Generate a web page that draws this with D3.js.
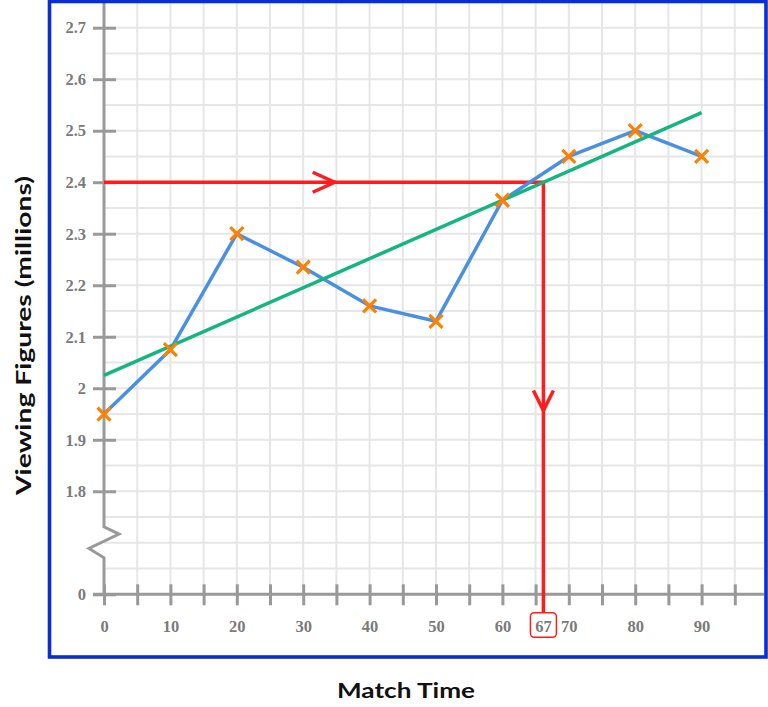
<!DOCTYPE html>
<html>
<head>
<meta charset="utf-8">
<script src="https://cdn.jsdelivr.net/npm/d3@7"></script>
<style>
  html, body { margin: 0; padding: 0; background: #ffffff; }
  svg { display: block; }
</style>
</head>
<body>
<svg id="chart" width="768" height="707"></svg>
<script>
// ---------- data ----------
const times = [0, 10, 20, 30, 40, 50, 60, 70, 80, 90];
const viewers = [1.95, 2.075, 2.30, 2.235, 2.16, 2.13, 2.365, 2.45, 2.50, 2.45];
const trendTimes = [0, 90];
const trendValues = [2.025, 2.535];
const readValue = 2.4;
const readLabel = "67";
const xTickLabels = [0, 10, 20, 30, 40, 50, 60, 70, 80, 90];
const yTickLabels = [1.8, 1.9, 2, 2.1, 2.2, 2.3, 2.4, 2.5, 2.6, 2.7];
const yBreakBase = 1.6;          // the "0" drawn below the axis break
const yBreakLabel = "0";
const xTitle = "Match Time";
const yTitle = "Viewing Figures (millions)";

// ---------- layout ----------
const svg = d3.select("#chart");
const x = d3.scaleLinear().domain([0, 90]).range([104, 701.6]);
const y = d3.scaleLinear().domain([yBreakBase, 2.7]).range([594.3, 27.7]);
const plotTop = 3, plotRight = 764;
const gray = "#999999", labelGray = "#7a7a7a";
const red = "#ff1c1c";
const serif = "'Liberation Serif', 'DejaVu Serif', serif";
const sans = "Lato, 'Open Sans', sans-serif";
const tickFont = 16.5;

// grid
const grid = svg.append("g").attr("stroke", "#e6e6e6").attr("stroke-width", 2);
grid.selectAll("line.v").data(d3.range(5, 100, 5)).join("line")
  .attr("class", "v")
  .attr("x1", d => x(d)).attr("x2", d => x(d))
  .attr("y1", plotTop).attr("y2", y(yBreakBase));
grid.selectAll("line.h").data(d3.range(1, 23).map(i => yBreakBase + i * 0.05)).join("line")
  .attr("class", "h")
  .attr("x1", x(0)).attr("x2", plotRight)
  .attr("y1", d => y(d)).attr("y2", d => y(d));

// y axis
const yAxis = svg.append("g").attr("transform", `translate(${x(0)},0)`)
  .call(d3.axisLeft(y)
    .tickValues([yBreakBase].concat(yTickLabels))
    .tickFormat(d => d === yBreakBase ? yBreakLabel : (d === 2 ? "2" : d3.format(".1f")(d)))
    .tickSize(11).tickPadding(7));
yAxis.select(".domain").remove();
yAxis.selectAll(".tick line").attr("x1", 12).attr("x2", -11)
  .attr("stroke", gray).attr("stroke-width", 3);
yAxis.selectAll(".tick text")
  .attr("fill", labelGray).attr("font-family", serif)
  .attr("font-weight", "bold").attr("font-size", tickFont);

// y axis line with break zig-zag
const breakPts = [
  [x(0), plotTop],
  [x(0), y(1.731)],
  [x(0) + 15, y(1.717)],
  [x(0) - 15, y(1.689)],
  [x(0), y(1.671)],
  [x(0), y(yBreakBase)]
];
svg.append("path")
  .attr("d", d3.line()(breakPts))
  .attr("fill", "none").attr("stroke", gray).attr("stroke-width", 3)
  .attr("stroke-linejoin", "miter");

// x axis
const xAxis = svg.append("g").attr("transform", `translate(0,${y(yBreakBase)})`)
  .call(d3.axisBottom(x)
    .tickValues(d3.range(0, 100, 5))
    .tickFormat(d => xTickLabels.includes(d) ? String(d) : "")
    .tickSize(11).tickPadding(15));
xAxis.select(".domain").remove();
xAxis.selectAll(".tick line").attr("y1", -10).attr("y2", 11)
  .attr("stroke", gray).attr("stroke-width", 3);
xAxis.selectAll(".tick text")
  .attr("fill", labelGray).attr("font-family", serif)
  .attr("font-weight", "bold").attr("font-size", tickFont);
svg.append("line")
  .attr("x1", x(0) - 11).attr("x2", plotRight)
  .attr("y1", y(yBreakBase)).attr("y2", y(yBreakBase))
  .attr("stroke", gray).attr("stroke-width", 3);

// reading off the trend line
const trend = d3.scaleLinear().domain(trendValues).range(trendTimes);
const readTime = trend(readValue);
const rx = x(readTime), ry = y(readValue);
const boxTop = 612.7, boxH = 24.6, boxW = 26;
svg.append("path")
  .attr("d", `M${x(0)},${ry}H${rx}V${boxTop}`)
  .attr("fill", "none").attr("stroke", red).attr("stroke-width", 3.5);
const mx = (x(0) + rx) / 2;
svg.append("path")
  .attr("d", `M${mx - 11},${ry - 10}L${mx + 11},${ry}L${mx - 11},${ry + 10}`)
  .attr("fill", "none").attr("stroke", red).attr("stroke-width", 3.5);
const my = (ry + boxTop) / 2 + 3;
svg.append("path")
  .attr("d", `M${rx - 10},${my - 10}L${rx},${my + 10}L${rx + 10},${my - 10}`)
  .attr("fill", "none").attr("stroke", red).attr("stroke-width", 3.5);
svg.append("rect")
  .attr("x", rx - boxW / 2).attr("y", boxTop).attr("width", boxW).attr("height", boxH)
  .attr("rx", 4).attr("fill", "#ffffff").attr("stroke", red).attr("stroke-width", 1.5);
svg.append("text")
  .attr("x", rx).attr("y", 631.7).attr("text-anchor", "middle")
  .attr("fill", labelGray).attr("font-family", serif)
  .attr("font-weight", "bold").attr("font-size", tickFont)
  .text(readLabel);

// data line
const pts = times.map((t, i) => [t, viewers[i]]);
svg.append("path")
  .attr("d", d3.line().x(d => x(d[0])).y(d => y(d[1]))(pts))
  .attr("fill", "none").attr("stroke", "#4a90e2").attr("stroke-width", 3.5)
  .attr("stroke-linejoin", "round");

// trend line
svg.append("path")
  .attr("d", d3.line().x(d => x(d[0])).y(d => y(d[1]))(trendTimes.map((t, i) => [t, trendValues[i]])))
  .attr("fill", "none").attr("stroke", "#14b57f").attr("stroke-width", 3.5);

// markers
svg.append("g").selectAll("path").data(pts).join("path")
  .attr("d", d => {
    const cx = x(d[0]), cy = y(d[1]), s = 6.5;
    return `M${cx - s},${cy - s}L${cx + s},${cy + s}M${cx - s},${cy + s}L${cx + s},${cy - s}`;
  })
  .attr("stroke", "#ff8000").attr("stroke-width", 3.2).attr("fill", "none");

// frame
svg.append("rect")
  .attr("x", 49.5).attr("y", 1.5).attr("width", 716.5).attr("height", 655.5)
  .attr("fill", "none").attr("stroke", "#0a2fd0").attr("stroke-width", 3.6);

// titles
svg.append("text")
  .attr("x", 406).attr("y", 697.7).attr("text-anchor", "middle")
  .attr("font-family", sans).attr("font-weight", 700).attr("font-size", 21)
  .attr("fill", "#111111")
  .attr("textLength", 138).attr("lengthAdjust", "spacingAndGlyphs")
  .text(xTitle);
svg.append("text")
  .attr("transform", "translate(30.7,335.5) rotate(-90)")
  .attr("text-anchor", "middle")
  .attr("font-family", sans).attr("font-weight", 700).attr("font-size", 21)
  .attr("fill", "#111111")
  .attr("textLength", 319).attr("lengthAdjust", "spacingAndGlyphs")
  .text(yTitle);
</script>
</body>
</html>
